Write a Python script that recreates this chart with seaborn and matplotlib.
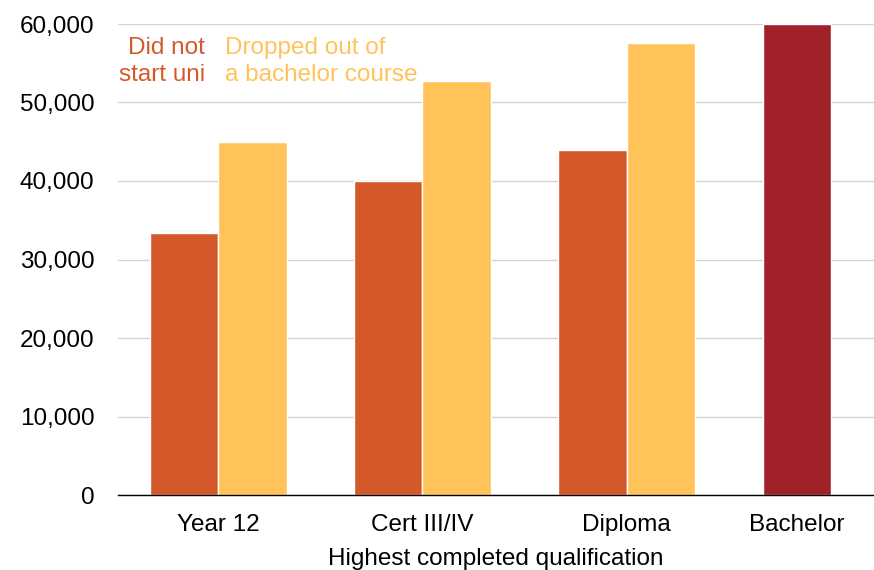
import pandas as pd
import seaborn as sns
import matplotlib.pyplot as plt
import matplotlib.ticker as tkr

# values
categories = ["Year 12", "Cert III/IV", "Diploma"]
did_not_start = [33400, 40000, 44000]
dropped_out = [45000, 52700, 57600]
bachelor_label = "Bachelor"
bachelor_value = 60000

RED = "#D4592A"
YELLOW = "#FFC35A"
DARKRED = "#A02128"

rows = []
for cat, a, b in zip(categories, did_not_start, dropped_out):
    rows.append((cat, "Did not start uni", a))
    rows.append((cat, "Dropped out", b))
# bachelor sits in the first slot of its group
rows.append((bachelor_label, "Did not start uni", bachelor_value))
df = pd.DataFrame(rows, columns=["qual", "group", "income"])

sns.set_theme(style="white")
plt.rcParams['font.family'] = ['Liberation Sans', 'DejaVu Sans']

fig = plt.figure(figsize=(8.74, 5.70), dpi=100)
ax = fig.add_axes([118 / 874, 75 / 570, 756 / 874, 471 / 570])

sns.barplot(data=df, x="qual", y="income", hue="group",
            order=categories + [bachelor_label],
            palette={"Did not start uni": RED, "Dropped out": YELLOW},
            saturation=1, width=0.67, edgecolor="white", linewidth=1.0,
            legend=False, ax=ax)

# recolour the bachelor bar (the rightmost one)
bars = [p for p in ax.patches if p.get_height() > 0]
bach = max(bars, key=lambda p: p.get_x())
bach.set_facecolor(DARKRED)
bach_centre = bach.get_x() + bach.get_width() / 2

ax.set_xlim(-0.49, 3.21)
ax.set_ylim(0, 60000)
ax.set_xticks([0, 1, 2, bach_centre])
ax.set_xticklabels(categories + [bachelor_label])
ax.yaxis.set_major_locator(tkr.MultipleLocator(10000))
ax.yaxis.set_major_formatter(tkr.FuncFormatter(lambda x, p: f"{int(x):,}"))

ax.grid(axis="y", color="#D3D3D8", linewidth=1.0)
ax.set_axisbelow(True)
for side in ["top", "right", "left"]:
    ax.spines[side].set_visible(False)
ax.spines["bottom"].set_color("black")
ax.spines["bottom"].set_linewidth(1.0)

ax.tick_params(axis="both", length=0, labelsize=17.5, colors="black")
ax.tick_params(axis="y", pad=17)
ax.tick_params(axis="x", pad=14)
ax.set_ylabel("")
ax.set_xlabel("Highest completed qualification", fontsize=17.5, labelpad=8,
              color="black")

ax.text(0.115, 0.972, "Did not\nstart uni", transform=ax.transAxes,
        ha="right", va="top", color=RED, fontsize=17.5, linespacing=1.3)
ax.text(0.1415, 0.972, "Dropped out of\na bachelor course", transform=ax.transAxes,
        ha="left", va="top", color=YELLOW, fontsize=17.5, linespacing=1.3)

plt.savefig("out.png", dpi=100)
